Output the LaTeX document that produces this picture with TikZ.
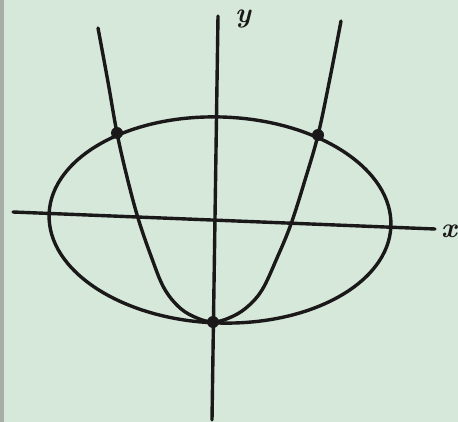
\documentclass[tikz,border=0pt]{standalone}
\usepackage{fontspec}
\usepackage{tikz}
\definecolor{paper}{RGB}{214,232,218}
\definecolor{ink}{RGB}{26,24,24}
\begin{document}
\begin{tikzpicture}[x=1pt,y=-1pt,
  curve/.style={draw=ink,line width=3.4pt,line cap=round,line join=round},
  dotpt/.style={circle,fill=ink,inner sep=0pt,minimum size=12pt},
  lbl/.style={font=\fontsize{28}{28}\selectfont\bfseries\itshape,text=ink,inner sep=0pt}]
\useasboundingbox (0,0) rectangle (458,422);
\fill[paper] (0,0) rectangle (458,422);
\fill[gray!55!paper] (0,0) rectangle (4,422);
% axes
\coordinate (xl) at (13,212);
\coordinate (xr) at (435,229);
\coordinate (yt) at (218,16);
\coordinate (yb) at (212,420);
\draw[curve] (xl) -- (xr);
\draw[curve] (yt) -- (yb);
\node[lbl,anchor=east] (xlab) at (457,231) {x};
\node[lbl,anchor=north] (ylab) at (243,10) {y};
% ellipse
\coordinate (c) at (220,220);
\draw[curve,rotate around={-2:(c)}] (c) ellipse [x radius=171, y radius=103];
% parabola
\draw[curve] plot[smooth,tension=0.6] coordinates {(98,28) (108,82) (117,133) (127,177) (138,218) (151,256) (164,288) (180,308) (197,318) (213,322) (229,318) (246,308) (262,290) (277,258) (291,224) (305,180) (318,135) (330,78) (341,21)};
% intersection points
\node[dotpt] (p1) at (117,133) {};
\node[dotpt] (p2) at (318,135) {};
\node[dotpt] (p3) at (213,322) {};
\end{tikzpicture}
\end{document}
